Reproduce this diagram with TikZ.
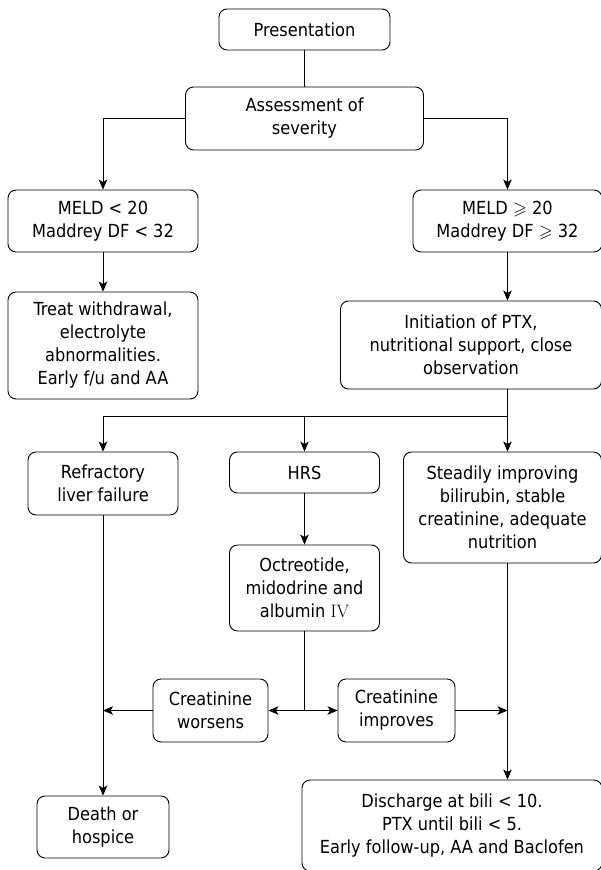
\documentclass[tikz,border=0pt]{standalone}
\usepackage{amssymb}
\usepackage{fontspec}
\newfontfamily\tah{DejaVu Sans Condensed}
\usetikzlibrary{arrows.meta}
\tikzset{
  box/.style={draw, rounded corners=8pt, align=center, inner sep=0pt, line width=0.9pt,
    font=\tah\fontsize{18}{23}\selectfont},
  arr/.style={-{Stealth[length=10pt,width=8.5pt,inset=2.5pt]}},
  ln/.style={line width=0.8pt}
}
\begin{document}
\begin{tikzpicture}[x=1pt,y=-1pt]
\useasboundingbox (0,0) rectangle (601,870);
\node[box, minimum width=171pt, minimum height=41pt] (pres) at (304.5,29.5) {Presentation};
\node[box, minimum width=238pt, minimum height=63pt] (assess) at (304.5,118.5) {Assessment of\\severity};
\node[box, minimum width=190pt, minimum height=62pt] (meldl) at (103,221) {MELD < 20\\Maddrey DF < 32};
\node[box, minimum width=189pt, minimum height=62pt] (meldh) at (507.5,221) {MELD $\geqslant$ 20\\Maddrey DF $\geqslant$ 32};
\node[box, minimum width=190pt, minimum height=107pt] (treat) at (103,345.5) {Treat withdrawal,\\electrolyte\\abnormalities.\\Early f/u and AA};
\node[box, minimum width=261pt, minimum height=88pt] (init) at (471,345) {Initiation of PTX,\\nutritional support, close\\observation};
\node[box, minimum width=150pt, minimum height=63pt] (refr) at (103,483.5) {Refractory\\liver failure};
\node[box, minimum width=150pt, minimum height=41pt] (hrs) at (304.5,472.5) {HRS};
\node[box, minimum width=198pt, minimum height=111pt] (stead) at (502.5,507.5) {Steadily improving\\bilirubin, stable\\creatinine, adequate\\nutrition};
\node[box, minimum width=150pt, minimum height=86pt] (octr) at (304.5,588) {Octreotide,\\midodrine and\\albumin {\rmfamily IV}};
\node[box, minimum width=115pt, minimum height=63pt] (worse) at (210.5,710.5) {Creatinine\\worsens};
\node[box, minimum width=117pt, minimum height=63pt] (impr) at (396.5,710.5) {Creatinine\\improves};
\node[box, minimum width=132pt, minimum height=62pt] (death) at (103,827) {Death or\\hospice};
\node[box, minimum width=300pt, minimum height=91pt] (disch) at (452,825.5) {Discharge at bili < 10.\\PTX until bili < 5.\\Early follow-up, AA and Baclofen};
\coordinate (jr) at (507.5,416);
\coordinate (jl) at (103,416);
\coordinate (jm) at (304.5,416);
\coordinate (jc) at (304.5,710.5);
\draw[ln] (pres) -- (assess);
\draw[ln,arr] (assess.west) -| (meldl.north);
\draw[ln,arr] (assess.east) -| (meldh.north);
\draw[ln,arr] (meldl) -- (treat);
\draw[ln,arr] (meldh.south) -- (meldh.south |- init.north);
\draw[ln] (init.south -| jr) -- (jr) -- (jl);
\draw[ln,arr] (jl) -- (refr);
\draw[ln,arr] (jm) -- (hrs);
\draw[ln,arr] (jr) -- (jr |- stead.north);
\draw[ln,arr] (hrs) -- (octr);
\draw[ln] (octr) -- (jc);
\draw[ln,arr] (jc) -- (worse);
\draw[ln,arr] (jc) -- (impr);
\draw[ln,arr] (refr) -- (death);
\draw[ln,arr] (worse.west) -- (worse.west -| refr.south);
\draw[ln,arr] (stead.south -| jr) -- (disch.north -| jr);
\draw[ln,arr] (impr.east) -- (impr.east -| jr);
\end{tikzpicture}
\end{document}
